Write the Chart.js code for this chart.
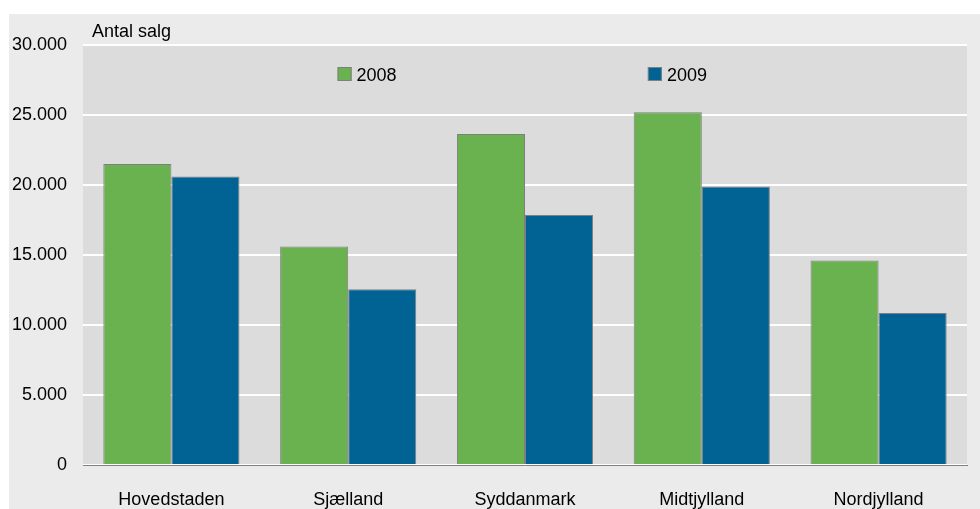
<!DOCTYPE html>
<html lang="da">
<head>
<meta charset="UTF-8">
<title>Antal salg</title>
<script src="https://cdn.jsdelivr.net/npm/chart.js"></script>
<style>
    body { margin: 0; background: #ffffff; }
    .panel {
        position: absolute;
        left: 9px;
        top: 14px;
        width: 971px;
        height: 495px;
        background: #ebebeb;
    }
</style>
</head>
<body>
<div class="panel">
    <canvas id="salesChart" width="971" height="495"></canvas>
</div>
<script>
    // data
    const regions = ['Hovedstaden', 'Sjælland', 'Syddanmark', 'Midtjylland', 'Nordjylland'];
    const sales2008 = [21500, 15600, 23650, 25200, 14600];
    const sales2009 = [20600, 12550, 17850, 19900, 10850];
    const seriesNames = ['2008', '2009'];
    const yLabel = 'Antal salg';

    const FONT = "'Liberation Sans', Arial, sans-serif";
    const green = '#6ab150';
    const blue = '#006394';

    const plotDecor = {
        id: 'plotDecor',
        beforeDraw(chart) {
            const a = chart.chartArea;
            const ctx = chart.ctx;
            ctx.save();
            ctx.fillStyle = '#dcdcdc';
            ctx.fillRect(a.left, a.top, a.right - a.left, a.bottom - a.top);
            ctx.restore();
        },
        afterDraw(chart) {
            const a = chart.chartArea;
            const ctx = chart.ctx;
            ctx.save();
            ctx.font = '18px ' + FONT;
            ctx.fillStyle = '#000';
            ctx.textBaseline = 'alphabetic';
            ctx.textAlign = 'left';
            ctx.fillText(yLabel, a.left + 9, 23);

            // legend inside plot
            const w = a.right - a.left;
            const pos = [0.288, 0.639];
            chart.data.datasets.forEach((ds, i) => {
                const x = a.left + w * pos[i];
                const y = a.top + 22;
                ctx.fillStyle = ds.backgroundColor;
                ctx.fillRect(x, y, 14, 14);
                ctx.strokeStyle = '#7f7f7f';
                ctx.lineWidth = 1;
                ctx.strokeRect(x + 0.5, y + 0.5, 13, 13);
                ctx.fillStyle = '#000';
                ctx.fillText(ds.label, x + 19, y + 14);
            });
            ctx.restore();
        }
    };

    new Chart(document.getElementById('salesChart'), {
        type: 'bar',
        data: {
            labels: regions,
            datasets: [
                { label: seriesNames[0], data: sales2008, backgroundColor: green, borderColor: '#7f7f7f', borderWidth: 1 },
                { label: seriesNames[1], data: sales2009, backgroundColor: blue, borderColor: '#7f7f7f', borderWidth: 1 }
            ]
        },
        options: {
            responsive: false,
            animation: false,
            layout: { padding: { top: 31, right: 13, left: 0, bottom: 0 } },
            datasets: { bar: { categoryPercentage: 0.77, barPercentage: 1 } },
            plugins: { legend: { display: false }, tooltip: { enabled: false } },
            scales: {
                x: {
                    grid: { display: false },
                    border: { display: true, color: '#7f7f7f', width: 1 },
                    ticks: { color: '#000', font: { family: FONT, size: 18 }, padding: 16 },
                    afterFit(scale) { scale.height = 44; }
                },
                y: {
                    min: 0,
                    max: 30000,
                    grid: { color: '#ffffff', lineWidth: 2, drawTicks: false },
                    border: { display: false },
                    ticks: {
                        stepSize: 5000,
                        color: '#000',
                        padding: 16,
                        font: { family: FONT, size: 18 },
                        callback: v => v.toLocaleString('da-DK')
                    },
                    afterFit(scale) { scale.width = 74; }
                }
            }
        },
        plugins: [plotDecor]
    });
</script>
</body>
</html>
